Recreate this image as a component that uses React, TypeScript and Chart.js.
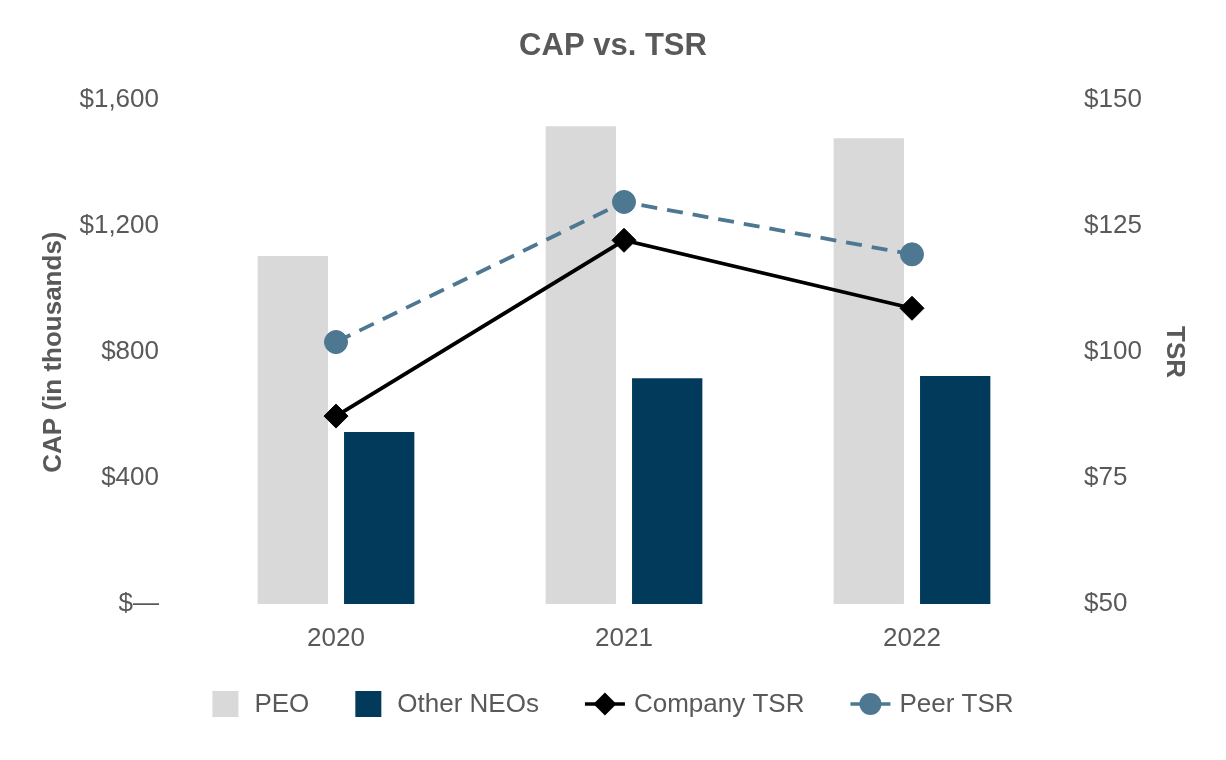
import React, { useEffect, useRef } from "react";
import { Chart, registerables } from "chart.js";

Chart.register(...registerables);

// Fiscal years on the category axis
const years = ["2020", "2021", "2022"];

// Compensation actually paid, in thousands of dollars
const peoCap = [1105, 1517, 1479];
const otherNeoCap = [546, 717, 724];

// Total shareholder return, value of an initial $100 investment
const companyTsr = [87.3, 122.2, 108.7];
const peerTsr = [102, 129.8, 119.4];

// Axis ranges and steps
const capTicks = { min: 0, max: 1600, step: 400 };
const tsrTicks = { min: 50, max: 150, step: 25 };

const FONT = "'Liberation Sans', Arial, sans-serif";
const TEXT = "#595959";
const PEO_COLOR = "#D9D9D9";
const NEO_COLOR = "#023A5B";
const COMPANY_COLOR = "#000000";
const PEER_COLOR = "#4E7891";

const W = 1226;
const H = 760;

function fmtCap(v: number) {
  if (v === 0) return "$\u2014";
  return "$" + v.toLocaleString("en-US");
}

// Legend drawn under the plot: bar swatches and line+marker samples
const legendPlugin = {
  id: "capLegend",
  afterDraw(chart: any) {
    const ctx = chart.ctx as CanvasRenderingContext2D;
    const items = chart.data.datasets.map((ds: any) => ({
      label: ds.label as string,
      kind: ds.type === "line" ? "line" : "box",
      color: (ds.type === "line" ? ds.borderColor : ds.backgroundColor) as string,
      point: ds.pointStyle as string,
    }));
    ctx.save();
    ctx.font = `26px ${FONT}`;
    const boxW = 26;
    const lineW = 40;
    const between = 46;
    const widths = items.map((it: any) => {
      const mw = it.kind === "box" ? boxW + 16 : lineW + 9;
      return mw + ctx.measureText(it.label).width;
    });
    const total = widths.reduce((a: number, b: number) => a + b, 0) + between * (items.length - 1);
    let x = (chart.width - total) / 2;
    const cy = 704;
    items.forEach((it: any, i: number) => {
      if (it.kind === "box") {
        ctx.fillStyle = it.color;
        ctx.fillRect(x, cy - 13, boxW, 26);
        ctx.fillStyle = TEXT;
        ctx.textBaseline = "middle";
        ctx.textAlign = "left";
        ctx.fillText(it.label, x + boxW + 16, cy + 1);
      } else {
        ctx.strokeStyle = it.color;
        ctx.lineWidth = 3.5;
        ctx.beginPath();
        ctx.moveTo(x, cy);
        ctx.lineTo(x + lineW, cy);
        ctx.stroke();
        ctx.fillStyle = it.color;
        const mx = x + lineW / 2;
        ctx.beginPath();
        if (it.point === "circle") {
          ctx.arc(mx, cy, 11, 0, Math.PI * 2);
        } else {
          ctx.moveTo(mx - 11.5, cy);
          ctx.lineTo(mx, cy - 11.5);
          ctx.lineTo(mx + 11.5, cy);
          ctx.lineTo(mx, cy + 11.5);
          ctx.closePath();
        }
        ctx.fill();
        ctx.fillStyle = TEXT;
        ctx.textBaseline = "middle";
        ctx.textAlign = "left";
        ctx.fillText(it.label, x + lineW + 9, cy + 1);
      }
      x += widths[i] + between;
    });
    ctx.restore();
  },
};

export default function App() {
  const canvasRef = useRef<HTMLCanvasElement | null>(null);

  useEffect(() => {
    document.body.style.margin = "0";
    const canvas = canvasRef.current;
    if (!canvas) return;

    const chart = new Chart(canvas, {
      type: "bar",
      data: {
        labels: years,
        datasets: [
          {
            type: "bar",
            label: "PEO",
            data: peoCap,
            backgroundColor: PEO_COLOR,
            yAxisID: "y",
            order: 2,
            categoryPercentage: 0.6,
            barPercentage: 0.814,
          },
          {
            type: "bar",
            label: "Other NEOs",
            data: otherNeoCap,
            backgroundColor: NEO_COLOR,
            yAxisID: "y",
            order: 2,
            categoryPercentage: 0.6,
            barPercentage: 0.814,
          },
          {
            type: "line",
            label: "Company TSR",
            data: companyTsr,
            borderColor: COMPANY_COLOR,
            backgroundColor: COMPANY_COLOR,
            borderWidth: 3.8,
            pointStyle: "rectRot",
            pointRadius: 12,
            pointBorderWidth: 1,
            yAxisID: "y1",
            order: 0,
          },
          {
            type: "line",
            label: "Peer TSR",
            data: peerTsr,
            borderColor: PEER_COLOR,
            backgroundColor: PEER_COLOR,
            borderWidth: 3.8,
            borderDash: [16, 10],
            pointStyle: "circle",
            pointRadius: 11.5,
            pointBorderWidth: 1,
            yAxisID: "y1",
            order: 1,
          },
        ] as any,
      },
      options: {
        animation: false,
        responsive: false,
        maintainAspectRatio: false,
        layout: { padding: 0 },
        plugins: {
          legend: { display: false },
          tooltip: { enabled: false },
          title: {
            display: true,
            text: "CAP vs. TSR",
            color: TEXT,
            font: { family: FONT, size: 31, weight: "bold" },
            padding: { top: 28, bottom: 35 },
          },
        },
        scales: {
          x: {
            grid: { display: false, drawTicks: false },
            border: { display: false },
            ticks: {
              color: TEXT,
              font: { family: FONT, size: 26 },
              padding: 19,
            },
            afterFit(scale: any) {
              scale.height = 156;
            },
          },
          y: {
            position: "left",
            min: capTicks.min,
            max: capTicks.max,
            grid: { display: false, drawTicks: false },
            border: { display: false },
            ticks: {
              stepSize: capTicks.step,
              color: TEXT,
              font: { family: FONT, size: 26 },
              padding: 33,
              callback: (v: any) => fmtCap(Number(v)),
            },
            title: {
              display: true,
              text: "CAP (in thousands)",
              color: TEXT,
              font: { family: FONT, size: 26, weight: "bold" },
              padding: { top: 38, bottom: 0 },
            },
            afterFit(scale: any) {
              scale.width = 192;
            },
          },
          y1: {
            position: "right",
            min: tsrTicks.min,
            max: tsrTicks.max,
            grid: { display: false, drawTicks: false },
            border: { display: false },
            ticks: {
              stepSize: tsrTicks.step,
              color: TEXT,
              font: { family: FONT, size: 26 },
              padding: 28,
              callback: (v: any) => "$" + v,
            },
            title: {
              display: true,
              text: "TSR",
              color: TEXT,
              font: { family: FONT, size: 26, weight: "bold" },
              padding: { top: 36, bottom: 0 },
            },
            afterFit(scale: any) {
              scale.width = 170;
            },
          },
        },
      } as any,
      plugins: [legendPlugin],
    });

    return () => chart.destroy();
  }, []);

  return (
    <div style={{ width: W, height: H, background: "#ffffff" }}>
      <canvas ref={canvasRef} width={W} height={H} style={{ display: "block" }} />
    </div>
  );
}
